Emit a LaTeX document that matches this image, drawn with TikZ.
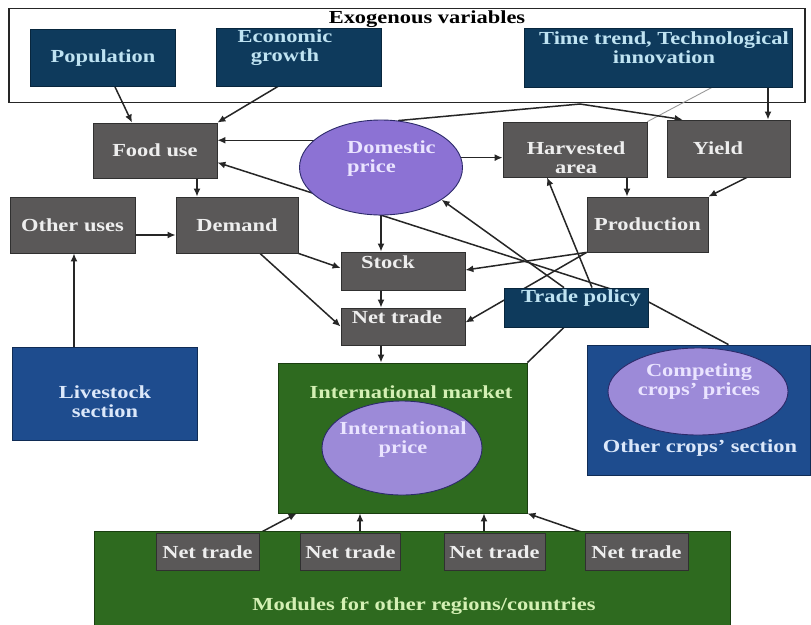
\documentclass[tikz,border=0pt]{standalone}
\usepackage{fontspec}
\setmainfont{Liberation Serif}[FakeStretch=1.22]
\usetikzlibrary{shapes.geometric,arrows.meta,calc}
\definecolor{navy}{HTML}{0E3A5C}
\definecolor{navyd}{HTML}{08263D}
\definecolor{navyt}{HTML}{BFE3F2}
\definecolor{greyf}{HTML}{5A5858}
\definecolor{greyd}{HTML}{303030}
\definecolor{greyt}{HTML}{EEEEEE}
\definecolor{purp}{HTML}{8C72D4}
\definecolor{purpl}{HTML}{9C8AD8}
\definecolor{purpd}{HTML}{2C2A6A}
\definecolor{purpt}{HTML}{EAE4FF}
\definecolor{bluef}{HTML}{1E4C8E}
\definecolor{blued}{HTML}{102C55}
\definecolor{bluet}{HTML}{DCE8FA}
\definecolor{greenf}{HTML}{2E6A1F}
\definecolor{greend}{HTML}{1A3E10}
\definecolor{greent}{HTML}{D4F0B4}
\definecolor{linec}{HTML}{262626}
\pgfdeclarelayer{back}
\pgfdeclarelayer{lines}
\pgfsetlayers{back,lines,main}
\begin{document}
\begin{tikzpicture}[x=1pt,y=-1pt,
  lbl/.style={font=\fontsize{18.4}{19}\selectfont\bfseries, align=center, inner sep=0pt},
  bx/.style 2 args={rectangle, minimum width=#1pt, minimum height=#2pt, inner sep=0pt, line width=0.8pt, lbl},
  navyb/.style={fill=navy, draw=navyd, text=navyt},
  greyb/.style={fill=greyf, draw=greyd, text=greyt},
  blueb/.style={fill=bluef, draw=blued, text=bluet},
  greenb/.style={fill=greenf, draw=greend, text=greent},
  ellp/.style 2 args={ellipse, minimum width=#1pt, minimum height=#2pt, inner sep=0pt, line width=0.9pt, draw=purpd, lbl},
  arr/.style={line width=1.5pt, draw=linec, -{Latex[length=8pt,width=7pt]}},
  plain/.style={line width=1.5pt, draw=linec},
  faint/.style={line width=0.9pt, draw=black!40}]
\useasboundingbox (0,0) rectangle (811,624);
\clip (0,0) rectangle (811,624);
\begin{pgfonlayer}{back}
\fill[white] (0,0) rectangle (811,624);
\node[bx={796}{94}, draw=black!85, line width=1.6pt, fill=white] (exo) at (407,55.5) {};
\end{pgfonlayer}
\node[lbl, text=black] (exot) at (427,19) {Exogenous variables};
% exogenous boxes
\node[bx={145}{57}, navyb] (pop) at (103,58) {Population};
\node[bx={165}{58}, navyb] (econ) at (298.5,57) {};
\node[lbl, text=navyt] (econt) at (285,47.5) {Economic\\growth};
\node[bx={268}{59}, navyb] (time) at (658,57.5) {};
\node[lbl, text=navyt] (timet) at (664,47.5) {Time trend, Technological\\innovation};
% grey boxes
\node[bx={124}{55}, greyb] (food) at (155,150.5) {Food use};
\node[ellp={163}{95}, fill=purp] (dom) at (381,167.5) {};
\node[lbl, text=purpt, align=left, anchor=west] (domt) at (347,159) {Domestic\\price};
\node[bx={144}{55}, greyb] (harv) at (575,149.5) {};
\node[lbl, text=greyt] (harvt) at (576,158) {Harvested\\area};
\node[bx={123}{57}, greyb] (yield) at (728.5,148.5) {};
\node[lbl, text=greyt] (yieldt) at (718,148) {Yield};
\node[bx={125}{56}, greyb] (other) at (72.5,225) {Other uses};
\node[bx={122}{56}, greyb] (demand) at (237,225) {Demand};
\node[bx={121}{55}, greyb] (prod) at (647.5,224.5) {Production};
\node[bx={124}{38}, greyb] (stock) at (403,271) {};
\node[lbl, text=greyt] (stockt) at (388,262) {Stock};
\node[bx={124}{37}, greyb] (nett) at (403,326.5) {};
\node[lbl, text=greyt] (nettt) at (397,317) {Net trade};
\node[bx={144}{39}, navyb] (trade) at (576,307.5) {};
\node[lbl, text=navyt] (tradet) at (581,298) {Trade policy};
% sections
\node[bx={185}{93}, blueb] (live) at (104.5,393.5) {};
\node[lbl, text=bluet] (livet) at (105,402) {Livestock\\section};
\node[bx={249}{150}, greenb] (intl) at (402.5,438) {};
\node[lbl, text=greent] (intlt) at (411,392) {International market};
\node[ellp={160}{94}, fill=purpl] (iprice) at (402,448) {};
\node[lbl, text=purpt] (ipricet) at (403,440) {International\\price};
\node[bx={223}{130}, blueb] (crops) at (698.5,410) {};
\node[ellp={180}{87}, fill=purpl] (cprice) at (698,391.5) {};
\node[lbl, text=purpt] (cpricet) at (699,382) {Competing\\crops' prices};
\node[lbl, text=bluet] (cropst) at (700,448) {Other crops' section};
% modules
\node[bx={636}{99}, greenb] (mod) at (412,580.5) {};
\node[lbl, text=greent] (modt) at (424,606) {Modules for other regions/countries};
\node[bx={103}{37}, greyb] (nt1) at (207.5,552) {Net trade};
\node[bx={100}{37}, greyb] (nt2) at (350.5,552) {Net trade};
\node[bx={101}{37}, greyb] (nt3) at (494.5,552) {Net trade};
\node[bx={103}{37}, greyb] (nt4) at (636.5,552) {Net trade};
\coordinate (kink) at (580,104);
\coordinate (hid) at (645,300);
\begin{pgfonlayer}{lines}
\draw[arr] ($(pop.south)+(12,0)$) -- ($(food.north)+(-23,0)$);
\draw[arr] ($(econ.south)+(-20.5,0)$) -- (food.north east);
\draw[faint] ($(time.south)+(54,0)$) -- (harv.north east);
\coordinate (t1) at ($(time.south)+(110,0)$);
\draw[arr] (t1) -- (t1 |- yield.north);
\draw[arr] (dom.70) -- (kink) -- ($(yield.north west)+(16,0)$);
\draw[arr] (dom.158.6) -- (dom.158.6 -| food.east);
\draw[arr] (dom.7) -- (dom.7 -| harv.west);
\draw[arr] (dom.south) -- (dom.south |- stock.north);
\coordinate (f1) at ($(food.south)+(42,0)$);
\draw[arr] (f1) -- (f1 |- demand.north);
\coordinate (o1) at ($(other.east)+(0,10)$);
\draw[arr] (o1) -- (o1 -| demand.west);
\coordinate (l1) at ($(live.north)+(-30.5,0)$);
\draw[arr] (l1) -- (l1 |- other.south);
\draw[arr] (demand.south east) -- ($(stock.west)+(0,-3)$);
\draw[arr] ($(demand.south)+(23,0)$) -- (nett.west);
\draw[arr] (stock.south -| dom.south) -- (nett.north -| dom.south);
\draw[arr] (nett.south -| dom.south) -- (intl.north -| dom.south);
\coordinate (h1) at ($(harv.south)+(52,0)$);
\draw[arr] (h1) -- (h1 |- prod.north);
\draw[arr] ($(yield.south)+(18.5,0)$) -- (prod.north east);
\draw[arr] (prod.south west) -- ($(stock.east)+(0,-1)$);
\draw[arr] (prod.south west) -- ($(nett.east)+(0,-4)$);
\draw[arr] ($(trade.north)+(-12,0)$) -- (dom.-28);
\draw[arr] ($(trade.north)+(16,0)$) -- ($(harv.south)+(-28,0)$);
\draw[plain] ($(trade.south)+(-12,0)$) -- (intl.north east);
\draw[arr] ($(crops.north)+(30,0)$) -- (hid) -- ($(food.east)+(0,12)$);
\draw[arr] (nt1.north east) -- ($(intl.south west)+(19,0)$);
\coordinate (n2) at ($(nt2.north)+(9.5,0)$);
\draw[arr] (n2) -- (n2 |- intl.south);
\coordinate (n3) at ($(nt3.north)+(-10.5,0)$);
\draw[arr] (n3) -- (n3 |- intl.south);
\draw[arr] (nt4.north west) -- (intl.south east);
\end{pgfonlayer}
\end{tikzpicture}
\end{document}
